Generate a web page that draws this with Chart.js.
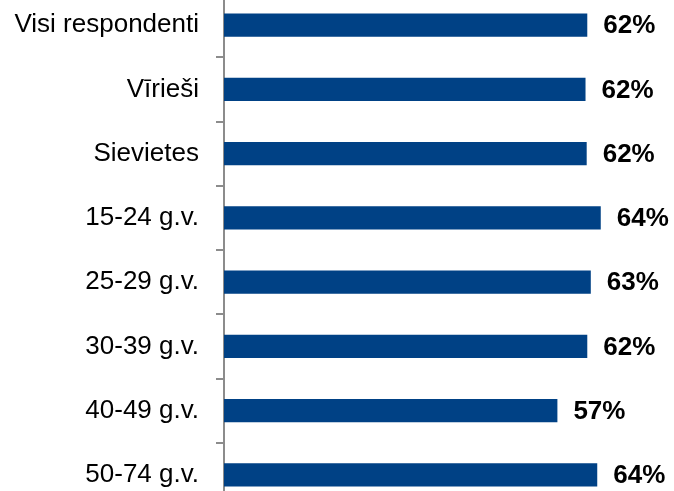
<!DOCTYPE html>
<html>
<head>
<meta charset="utf-8">
<script src="https://cdn.jsdelivr.net/npm/chart.js@4"></script>
<style>
  html, body { margin: 0; padding: 0; background: #fff; overflow: hidden; }
  .wrap { position: absolute; left: 0; top: -7px; width: 674px; height: 514px; }
</style>
</head>
<body>
<div class="wrap"><canvas class="js-chart"></canvas></div>
<script>
const ctx = document.querySelector(".js-chart").getContext("2d");

const categories = [
  "Visi respondenti",
  "Vīrieši",
  "Sievietes",
  "15-24 g.v.",
  "25-29 g.v.",
  "30-39 g.v.",
  "40-49 g.v.",
  "50-74 g.v.",
];
const shares = [62.0, 61.7, 61.9, 64.3, 62.6, 62.0, 56.9, 63.7];
const shareLabels = ["62%", "62%", "62%", "64%", "63%", "62%", "57%", "64%"];

const FONT = "'Liberation Sans', Arial, sans-serif";
const BAR_COLOR = "#004185";
const AXIS_COLOR = "#8c8c8c";

// draws the percent text right after each bar
const valueLabels = {
  id: "valueLabels",
  afterDatasetsDraw(chart) {
    const c = chart.ctx;
    const meta = chart.getDatasetMeta(0);
    c.save();
    c.font = "bold 26px " + FONT;
    c.fillStyle = "#000";
    c.textAlign = "left";
    c.textBaseline = "middle";
    meta.data.forEach((bar, i) => {
      c.fillText(shareLabels[i], bar.x + 16, bar.y + 1);
    });
    c.restore();
  },
};

new Chart(ctx, {
  type: "bar",
  data: {
    labels: categories,
    datasets: [
      {
        data: shares,
        backgroundColor: BAR_COLOR,
        borderWidth: 0,
        barPercentage: 0.364,
        categoryPercentage: 1,
      },
    ],
  },
  options: {
    indexAxis: "y",
    responsive: true,
    maintainAspectRatio: false,
    animation: false,
    layout: { padding: 0 },
    plugins: {
      legend: { display: false },
      tooltip: { enabled: false },
    },
    scales: {
      x: {
        display: false,
        min: 0,
        max: 76.8,
      },
      y: {
        offset: true,
        afterFit(scale) {
          scale.width = 224;
          // let the axis run the full height
          scale.paddingTop = 0;
          scale.paddingBottom = 0;
        },
        border: { display: true, color: AXIS_COLOR, width: 2 },
        grid: {
          offset: true,
          drawOnChartArea: false,
          drawTicks: true,
          tickLength: 8,
          color: AXIS_COLOR,
          lineWidth: 2,
        },
        ticks: {
          padding: 17,
          color: "#000",
          font: { family: FONT, size: 26 },
        },
      },
    },
  },
  plugins: [valueLabels],
});
</script>
</body>
</html>
